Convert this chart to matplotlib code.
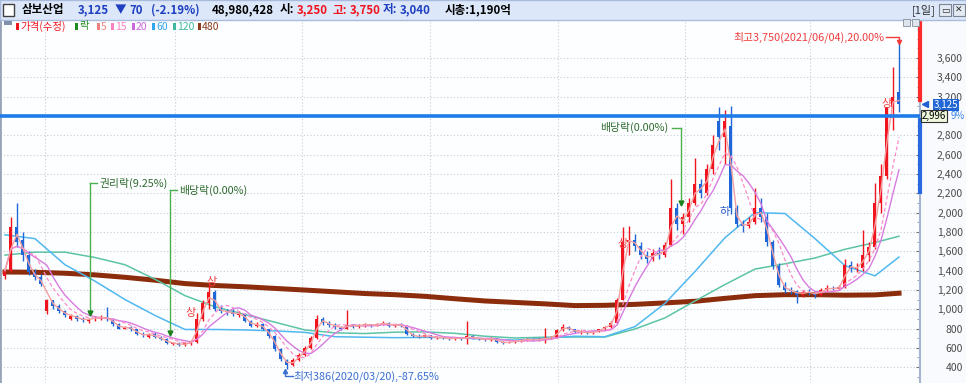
import numpy as np
import pandas as pd
import matplotlib
matplotlib.use('Agg')
import matplotlib.pyplot as plt
import matplotlib.transforms as mtrans
from matplotlib.patches import Rectangle

plt.rcParams['font.family'] = ['Noto Sans CJK KR', 'DejaVu Sans']

W, H = 966, 383

# 캔들 1개 = 약 3거래일 (150개), 값은 차트에서 읽음
opens = [
    1340, 1400, 1850, 1720, 1560, 1380, 1330, 980, 1090, 1030,
    980, 900, 930, 900, 880, 900, 910, 920, 900, 850,
    800, 820, 790, 740, 710, 740, 710, 690, 640, 650,
    630, 645, 660, 900, 1060, 1180, 1000, 980, 970, 940,
    950, 880, 830, 850, 790, 720, 590, 470, 420, 470,
    530, 600, 700, 900, 860, 840, 820, 800, 840, 820,
    835, 845, 830, 845, 860, 830, 840, 830, 740, 720,
    715, 730, 700, 712, 700, 690, 705, 690, 720, 700,
    690, 680, 700, 660, 650, 662, 672, 682, 692, 680,
    692, 700, 705, 780, 820, 790, 760, 765, 750, 765,
    790, 820, 860, 1100, 1700, 1720, 1650, 1560, 1520, 1580,
    1560, 1660, 2050, 1880, 1950, 2100, 2300, 2200, 2450, 2950,
    2780, 2900, 2050, 1880, 1860, 1900, 2050, 1950, 1700, 1450,
    1250, 1200, 1190, 1150, 1180, 1170, 1150, 1200, 1220, 1210,
    1230, 1460, 1420, 1430, 1560, 1640, 2100, 2380, 3095, 3250]
highs = [
    1420, 1950, 2100, 1800, 1600, 1420, 1360, 1110, 1100, 1050,
    990, 950, 940, 920, 910, 930, 940, 1020, 910, 860,
    830, 830, 800, 760, 750, 760, 720, 700, 660, 660,
    660, 680, 960, 1100, 1280, 1200, 1040, 1000, 1000, 980,
    960, 890, 870, 860, 800, 730, 600, 480, 490, 550,
    620, 720, 940, 920, 880, 860, 830, 990, 850, 850,
    860, 850, 860, 880, 870, 850, 860, 835, 750, 740,
    740, 735, 720, 720, 710, 710, 710, 880, 730, 705,
    700, 710, 705, 670, 670, 680, 690, 700, 700, 700,
    810, 720, 800, 850, 830, 800, 780, 770, 775, 800,
    830, 880, 1120, 1850, 1860, 1780, 1700, 1600, 1620, 1640,
    1700, 2350, 2100, 2000, 2150, 2560, 2350, 2500, 2800, 3090,
    3060, 3100, 2080, 1920, 1950, 2250, 2150, 2000, 1720, 1480,
    1280, 1230, 1200, 1200, 1210, 1180, 1220, 1250, 1240, 1250,
    1520, 1500, 1480, 1820, 1700, 2310, 2500, 3095, 3510, 3750]
lows = [
    1310, 1380, 1640, 1500, 1350, 1300, 1240, 950, 1000, 960,
    920, 890, 880, 870, 860, 880, 890, 880, 830, 790,
    790, 770, 730, 710, 700, 700, 680, 640, 630, 620,
    620, 630, 650, 880, 1000, 980, 960, 940, 930, 920,
    870, 820, 820, 780, 700, 570, 460, 386, 410, 460,
    520, 590, 690, 840, 820, 800, 780, 790, 810, 810,
    820, 820, 825, 840, 820, 820, 820, 730, 710, 700,
    710, 690, 690, 690, 680, 685, 680, 640, 690, 680,
    670, 675, 650, 640, 645, 655, 665, 675, 675, 675,
    650, 690, 700, 770, 780, 750, 745, 740, 745, 760,
    780, 810, 850, 1100, 1560, 1600, 1520, 1480, 1500, 1520,
    1540, 1650, 1820, 1780, 1900, 2080, 2150, 2180, 2400, 2650,
    2500, 1980, 1850, 1800, 1840, 1880, 1900, 1650, 1420, 1230,
    1170, 1160, 1060, 1130, 1150, 1120, 1140, 1180, 1190, 1200,
    1220, 1380, 1380, 1400, 1500, 1620, 2000, 2350, 2850, 3040]
closes = [
    1400, 1850, 1700, 1560, 1380, 1330, 1260, 1090, 1030, 980,
    940, 930, 900, 890, 900, 910, 920, 900, 850, 800,
    820, 790, 740, 730, 740, 710, 690, 650, 650, 630,
    645, 660, 900, 1060, 1180, 1000, 980, 970, 950, 960,
    880, 830, 850, 790, 720, 590, 480, 420, 470, 530,
    600, 700, 900, 860, 840, 820, 800, 840, 820, 835,
    845, 830, 845, 860, 830, 840, 830, 740, 720, 715,
    730, 700, 712, 700, 690, 705, 690, 720, 700, 690,
    680, 700, 660, 650, 662, 672, 682, 692, 680, 692,
    700, 705, 780, 820, 790, 760, 765, 750, 765, 790,
    820, 860, 1100, 1700, 1720, 1650, 1560, 1520, 1580, 1560,
    1660, 2050, 1880, 1950, 2100, 2300, 2200, 2450, 2700, 2780,
    2950, 2050, 1880, 1860, 1900, 2050, 1950, 1700, 1450, 1250,
    1200, 1190, 1150, 1180, 1170, 1150, 1200, 1220, 1210, 1230,
    1460, 1420, 1430, 1560, 1640, 2100, 2380, 3095, 3195, 3125]

# 장기 이동평균 (차트에서 읽음, 5캔들 간격)
ma_idx = list(range(0, 150, 5)) + [149]
ma60 = [1770, 1730, 1460, 1290, 1100, 935, 790, 790, 785, 775,
        760, 715, 710, 705, 708, 705, 690, 680, 700, 720,
        715, 820, 1060, 1390, 1740, 2000, 1990, 1730, 1450, 1345, 1540]
ma120 = [1560, 1590, 1590, 1535, 1460, 1310, 1140, 1025, 945, 865,
         785, 755, 748, 762, 765, 750, 720, 702, 710, 712,
         712, 795, 910, 1085, 1255, 1415, 1470, 1530, 1620, 1690, 1755]
ma480 = [1385, 1382, 1372, 1355, 1330, 1300, 1265, 1245, 1232, 1215,
         1198, 1180, 1162, 1150, 1133, 1108, 1085, 1070, 1055, 1037,
         1040, 1050, 1065, 1082, 1112, 1140, 1150, 1150, 1145, 1148, 1165]
# 단기 이평 창 (캔들 단위): 5, 15, 20일
ma_windows = [2, 5, 7]

quarter_idx = [6.7, 28.3, 49.5, 70.8, 92.2, 113.3, 134.2]
price_ticks = list(range(400, 3601, 200))
cur_price = 3125
ref_price = 2996

# 이벤트 (캔들 위치, 텍스트 높이, 화살표 끝, 텍스트)
events = [(14.2, 2306, 940, '권리락(9.25%)', 'r'),
          (27.5, 2234, 733, '배당락(0.00%)', 'r'),
          (112.7, 2876, 2079, '배당락(0.00%)', 'l')]
limit_marks = [(31, 960, '상'), (34.5, 1280, '상'), (103, 1675, '상'),
               (147, 3125, '상'), (120, 2005, '하')]

RED = '#F0141E'
BLUE = '#1F66D8'


def fx(px):
    return px / W


def fy(py):
    return 1 - py / H


fig = plt.figure(figsize=(W / 100, H / 100), dpi=100)
fig.patch.set_facecolor('#F8FAFD')
ax = fig.add_axes([0, 0, 920 / W, 363 / H])
ax.set_facecolor('#FDFEFF')
ax.set_xlim(-0.83, 152.5)
ax.set_ylim(236, 3993)

idx = np.arange(len(closes))
o, hi, lo, c = map(np.array, (opens, highs, lows, closes))
col = np.where(c >= o, RED, BLUE)

# 이동평균
ax.plot(ma_idx, ma480, color='#8B2C0C', lw=3.6, zorder=2)
ax.plot(ma_idx, ma120, color='#5CC4A6', lw=1.1, zorder=2)
ax.plot(ma_idx, ma60, color='#50B8F0', lw=1.1, zorder=2)

ax.vlines(idx, lo, hi, colors=col, lw=1, zorder=3)
ax.bar(idx, np.maximum(np.abs(c - o), 6), bottom=np.minimum(o, c), width=0.5,
       color=col, lw=0, zorder=3)

s = pd.Series(closes, dtype=float)
ma5, ma15, ma20 = [s.rolling(w, min_periods=1).mean() for w in ma_windows]
ax.plot(idx, ma20, color='#D77BE0', lw=1, zorder=4)
ax.plot(idx, ma15, color='#FF8AC8', lw=0.9, ls=(0, (3, 2)), zorder=4)
ax.plot(idx, ma5, color='#F4A0A0', lw=1, zorder=4)

ax.axhline(ref_price, color='#1E7BE8', lw=2.6, zorder=5)

# 축 / 그리드 (3,000 눈금은 기준가 태그에 가려짐)
ax.yaxis.tick_right()
ax.set_yticks(price_ticks)
ax.set_yticklabels(['' if v == 3000 else f'{v:,}' for v in price_ticks])
ax.set_yticks(range(300, 3901, 100), minor=True)
ax.tick_params(axis='y', which='major', direction='in', length=3, color='#707070',
               pad=31, labelsize=7.5, labelcolor='#4A4A4A')
ax.tick_params(axis='y', which='minor', direction='in', length=2, color='#8090A0')
for lab in ax.get_yticklabels():
    lab.set_horizontalalignment('right')
ax.set_xticks(quarter_idx)
ax.tick_params(axis='x', length=0, labelbottom=False)
ax.grid(True, ls=(0, (1, 2)), color='#C8CCD4', lw=0.8, zorder=0)
ax.set_axisbelow(True)
for sp in ('top', 'bottom'):
    ax.spines[sp].set_visible(False)
ax.spines['left'].set_color('#98A4B8')
ax.spines['left'].set_linewidth(2)
ax.spines['right'].set_color('#A6B6D0')
ax.spines['right'].set_linewidth(1.5)

blend = mtrans.blended_transform_factory(ax.transAxes, ax.transData)
ax.plot([1, 1], [3165, 3993], transform=blend, color='#FF2A2A', lw=3,
        clip_on=False, zorder=6)
ax.plot([1, 1], [2210, 2960], transform=blend, color='#2868E0', lw=3,
        clip_on=False, zorder=6)

# 가격 태그
ax.plot([1.005], [cur_price], transform=blend, marker='<', ms=5, color='#2060D0',
        clip_on=False, zorder=7)
ax.text(1.028, cur_price - 10, f'{cur_price:,}', transform=blend, ha='center',
        va='center', fontsize=7, color='white', zorder=7,
        bbox=dict(boxstyle='square,pad=0.1', fc='#2166D6', ec='none'))
ax.text(1.0415, ref_price, '9%', transform=blend, ha='center', va='center',
        fontsize=7, color='#3A86F0', zorder=7)
ax.text(1.0155, ref_price, f'{ref_price:,}', transform=blend, ha='center', va='center',
        fontsize=7, color='black', zorder=8,
        bbox=dict(boxstyle='square,pad=0.1', fc='#EEF9DC', ec='#303030', lw=0.8))

# 권리락 / 배당락
for x, top, bot, txt, side in events:
    ax.plot([x, x], [top, bot], color='#4CB050', lw=1, zorder=6)
    ax.plot([x], [bot + 20], marker='v', ms=3.5, color='#1E8020', zorder=6)
    if side == 'r':
        ax.plot([x, x + 1.2], [top, top], color='#4CB050', lw=1, zorder=6)
        ax.text(x + 1.6, top, txt, ha='left', va='center', fontsize=7.8, color='#2F6A2F')
    else:
        ax.plot([x - 1.5, x], [top, top], color='#4CB050', lw=1, zorder=6)
        ax.text(x - 2.2, top, txt, ha='right', va='center', fontsize=7.8, color='#2F6A2F')

# 최고 / 최저
hi_i = int(np.argmax(highs))
lo_i = int(np.argmin(lows))
ax.plot([hi_i - 2.2, hi_i, hi_i], [3817, 3817, 3770], color='#F03C3C', lw=1, zorder=6)
ax.plot([hi_i], [3770], marker='v', ms=3, color='#F03C3C', zorder=6)
ax.text(hi_i - 2.4, 3817, f'최고{highs[hi_i]:,}(2021/06/04),20.00%', ha='right',
        va='center', fontsize=7.8, color='#F03C3C')
ax.plot([lo_i + 1.0, lo_i - 0.3, lo_i - 0.3], [309, 309, 365], color='#3A6FD0', lw=1,
        zorder=6)
ax.plot([lo_i - 0.3], [365], marker='^', ms=3, color='#3A6FD0', zorder=6)
ax.text(lo_i + 1.0, 309, f'최저{lows[lo_i]}(2020/03/20),-87.65%', ha='left',
        va='center', fontsize=7.8, color='#3A6FD0')

for x, y, t in limit_marks:
    ax.text(x, y, t, ha='center', va='center', fontsize=8,
            color='#F04040' if t == '상' else '#3060D0', zorder=7)

# 상단 바
fig.patches.append(Rectangle((0, fy(20)), 1, 20 / H, transform=fig.transFigure,
                             fc='#DCE7F9', ec='#A9BCDD', lw=1, zorder=0))
fig.patches.append(Rectangle((fx(3), fy(16)), fx(11), 12 / H, transform=fig.transFigure,
                             fc='white', ec='#404040', lw=1))
title_parts = [(22, '삼보산업', 'black'), (78, '3,125', '#1F3FC0'), (115, '▼', '#1F3FC0'),
               (129, '70', '#1F3FC0'), (151, '(-2.19%)', '#1F3FC0'),
               (212, '48,980,428', 'black'), (280, '시:', 'black'), (297, '3,250', RED),
               (333, '고:', RED), (350, '3,750', RED), (383, '저:', '#1F3FC0'),
               (400, '3,040', '#1F3FC0'), (445, '시총:1,190억', 'black')]
for px, t, cc in title_parts:
    fig.text(fx(px), fy(10), t, ha='left', va='center', fontsize=8.3,
             fontweight='bold', color=cc)
fig.text(fx(912), fy(10), '[1일]', ha='left', va='center', fontsize=8, color='#303030')
for bx, g in [(939, '▭'), (953, '✕')]:
    fig.patches.append(Rectangle((fx(bx), fy(16)), fx(12), 12 / H, transform=fig.transFigure,
                                 fc='#E4EAF4', ec='#7A8698', lw=0.8))
    fig.text(fx(bx + 6), fy(10), g, ha='center', va='center', fontsize=6.5, color='#303030')
for bx in (903, 912):
    fig.patches.append(Rectangle((fx(bx), fy(26)), fx(7), 7 / H, transform=fig.transFigure,
                                 fc='#E0E4EC', ec='#8090A0', lw=0.6))

# 범례
fig.patches.append(Rectangle((fx(4), fy(25)), fx(8), 4 / H, transform=fig.transFigure,
                             fc='#8090A8', ec='none'))
legend_items = [('가격(수정)', RED, 20), ('락', '#1E8C1E', 79), ('5', '#F08080', 101),
                ('15', '#FF7FBF', 115), ('20', '#CC66DD', 136), ('60', '#33A6F0', 156),
                ('120', '#3FB8A0', 177), ('480', '#8B3A1A', 202)]
for t, cc, px in legend_items:
    fig.patches.append(Rectangle((fx(px - 4), fy(30)), fx(2.5), 7 / H,
                                 transform=fig.transFigure, fc=cc, ec='none'))
    fig.text(fx(px), fy(26.5), t, ha='left', va='center', fontsize=7.5, color=cc)

fig.savefig('out.png', dpi=100, facecolor=fig.get_facecolor())
